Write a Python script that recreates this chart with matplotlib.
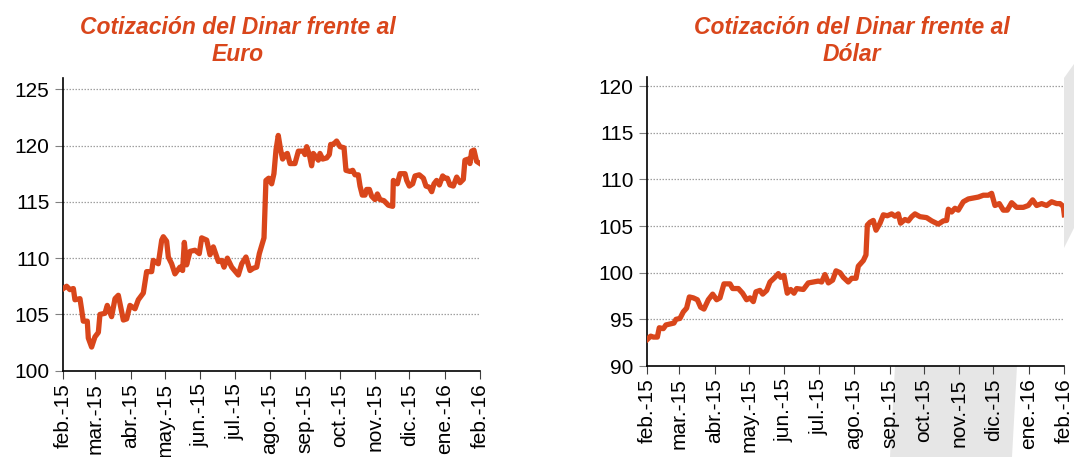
import matplotlib
matplotlib.use("Agg")
import matplotlib.pyplot as plt
from matplotlib.patches import Polygon

plt.rcParams['font.family'] = ['Liberation Sans', 'DejaVu Sans']

# dias desde el 1 de febrero de 2015
dias_euro = [0, 2.9, 5.8, 8.8, 10.2, 14.6, 16.1, 17.5, 21.0, 21.9, 24.8, 27.7, 30.7, 32.1,
             36.5, 38.5, 42.3, 45.3, 48.2, 52.6, 55.5, 58.4, 62.8, 65.7, 70.1, 73.0, 77.4,
             78.8, 83.2, 86.2, 87.6, 90.5, 92.0, 94.9, 97.8, 102.2, 104.5, 106.0, 108.0,
             111.0, 115.3, 119.1, 121.2, 125.6, 128.5, 131.4, 135.8, 138.7, 140.8, 143.7,
             147.5, 153.3, 156.3, 160.0, 163.5, 166.4, 169.4, 171.7, 175.8, 177.5, 179.9,
             182.5, 184.5, 186.3, 188.3, 190.4, 192.1, 194.8, 196.2, 198.6, 202.9, 205.9,
             210.2, 211.7, 213.2, 215.5, 217.5, 219.0, 223.4, 224.8, 227.2, 230.7, 233.0,
             234.2, 236.5, 239.4, 242.4, 245.9, 247.6, 251.1, 253.5, 255.5, 258.4, 259.9,
             261.9, 264.3, 265.7, 268.1, 270.1, 273.0, 275.1, 277.4, 280.9, 284.7, 288.5,
             289.1, 290.5, 292.6, 294.9, 299.3, 300.8, 303.1, 306.0, 308.1, 311.8, 315.4,
             317.7, 320.6, 322.7, 324.7, 327.0, 329.4, 332.3, 334.3, 336.4, 338.7, 341.6,
             344.6, 347.5, 350.4, 351.8, 354.7, 356.2, 357.7, 359.7, 362.0, 365.0]
euro = [107.3, 107.5, 107.2, 107.3, 106.3, 106.4, 105.4, 104.4, 104.4, 102.9, 102.1, 103.0,
        103.4, 105.0, 105.1, 105.8, 104.8, 106.4, 106.7, 104.5, 104.6, 105.8, 105.5, 106.3,
        106.9, 108.8, 108.8, 109.8, 109.5, 111.6, 111.9, 111.5, 110.1, 109.5, 108.6, 109.2,
        108.9, 111.4, 109.4, 110.6, 110.7, 110.4, 111.8, 111.6, 110.3, 111.0, 109.7, 109.8,
        109.2, 110.0, 109.2, 108.5, 109.5, 110.1, 108.9, 109.1, 109.2, 110.4, 111.8, 116.9,
        117.1, 116.6, 117.5, 119.6, 120.9, 119.6, 118.8, 119.2, 119.3, 118.4, 118.4, 119.5,
        119.5, 119.2, 119.9, 119.2, 118.2, 119.3, 118.7, 119.3, 118.8, 118.9, 119.2, 120.1,
        120.1, 120.4, 119.9, 119.8, 117.8, 117.7, 117.8, 117.4, 117.4, 116.4, 115.6, 115.6,
        116.1, 116.1, 115.5, 115.2, 115.7, 115.2, 115.1, 114.7, 114.6, 116.9, 116.8, 116.6,
        117.5, 117.5, 116.9, 116.4, 116.6, 117.3, 117.4, 117.1, 116.4, 116.3, 115.9, 116.6,
        116.9, 116.5, 117.3, 117.1, 117.1, 116.5, 116.4, 117.2, 116.7, 117.0, 118.7, 118.8,
        118.4, 119.5, 119.6, 118.6, 118.4]

dias_dolar = [0, 2.9, 5.3, 8.8, 10.5, 14.0, 16.3, 19.8, 23.3, 25.1, 28.6, 31.5, 34.4, 36.8,
              40.3, 43.8, 46.7, 49.6, 53.4, 57.2, 60.7, 63.6, 67.1, 72.4, 74.7, 79.7, 83.4,
              86.9, 89.9, 92.8, 95.1, 98.6, 101.0, 104.5, 107.4, 111.7, 114.7, 116.7, 119.6,
              122.5, 125.5, 128.4, 130.7, 136.6, 140.9, 145.3, 149.7, 152.6, 155.5, 158.5,
              162.2, 165.2, 168.7, 171.6, 175.9, 178.9, 182.7, 184.7, 189.1, 191.4, 192.6,
              194.9, 197.8, 200.2, 203.7, 206.6, 210.1, 213.9, 216.8, 219.7, 221.7, 225.5,
              228.5, 231.4, 234.3, 238.7, 244.5, 248.9, 254.7, 259.1, 262.0, 263.5, 266.4,
              269.3, 272.2, 276.6, 281.0, 285.3, 289.7, 294.1, 298.5, 301.4, 304.3, 308.1,
              311.6, 315.1, 318.9, 323.3, 329.1, 333.5, 337.3, 340.8, 345.2, 349.5, 353.9,
              358.3, 361.2, 364.1, 365.0]
dolar = [92.85, 93.2, 93.1, 93.1, 94.1, 94.0, 94.4, 94.5, 94.6, 95.0, 95.1, 95.8, 96.2, 97.4,
         97.3, 97.1, 96.3, 96.1, 97.1, 97.7, 97.1, 97.3, 98.8, 98.8, 98.3, 98.3, 97.8, 97.1,
         97.3, 96.9, 97.95, 98.1, 97.7, 98.1, 99.0, 99.5, 99.9, 99.5, 99.7, 97.8, 98.2, 97.8,
         98.3, 98.2, 98.9, 99.0, 99.1, 99.0, 99.8, 98.9, 99.2, 100.2, 100.0, 99.5, 99.0, 99.4,
         99.4, 100.7, 101.3, 101.9, 105.1, 105.4, 105.6, 104.55, 105.3, 106.2, 106.1, 106.3,
         106.05, 106.3, 105.3, 105.7, 105.55, 106.0, 106.3, 106.0, 105.9, 105.55, 105.2,
         105.55, 105.6, 106.8, 106.5, 106.9, 106.7, 107.6, 107.9, 108.0, 108.1, 108.3, 108.3,
         108.5, 107.2, 107.4, 106.7, 106.7, 107.5, 107.0, 107.0, 107.2, 107.8, 107.2, 107.4,
         107.2, 107.6, 107.4, 107.4, 107.1, 106.2]

meses_dias = [0, 28, 59, 89, 120, 150, 181, 212, 242, 273, 303, 334, 365]
meses = ['feb.-15', 'mar.-15', 'abr.-15', 'may.-15', 'jun.-15', 'jul.-15', 'ago.-15',
         'sep.-15', 'oct.-15', 'nov.-15', 'dic.-15', 'ene.-16', 'feb.-16']

naranja = '#D9461B'
W, H = 1074, 457

fig = plt.figure(figsize=(W / 100, H / 100), dpi=100)
fig.patch.set_facecolor('white')

# figura gris de fondo (solo asoma fuera del grafico derecho)
for pts in ([(890, 457), (895, 366), (1017, 366), (1012, 457)],
            [(1064, 78), (1074, 64), (1074, 228), (1064, 248)]):
    fig.add_artist(Polygon([(x / W, 1 - y / H) for x, y in pts], closed=True,
                           transform=fig.transFigure, facecolor='#E6E6E6',
                           edgecolor='none', zorder=0))


def grafico(rect, dias, valores, ylim, yticks, titulo, tx):
    ax = fig.add_axes(rect)
    ax.set_facecolor('white')
    ax.set_zorder(1)
    ax.plot(dias, valores, color=naranja, lw=3.8, solid_joinstyle='round', zorder=3)
    ax.set_xlim(0, 365)
    ax.set_ylim(*ylim)
    ax.set_yticks(yticks)
    ax.set_xticks(meses_dias)
    ax.set_xticklabels(meses, rotation=90, fontsize=15)
    ax.tick_params(axis='y', labelsize=15, length=6, color='#808080', pad=4)
    ax.tick_params(axis='x', length=6, color='#404040', pad=3)
    for s in ['top', 'right']:
        ax.spines[s].set_visible(False)
    for s in ['left', 'bottom']:
        ax.spines[s].set_color('black')
        ax.spines[s].set_linewidth(1.2)
    for v in yticks[1:]:
        ax.axhline(v, color='#A0A0A0', lw=0.9, ls=(0, (1.2, 1.2)), zorder=1)
    fig.text(tx / W, 1 - 16 / H, titulo, ha='center', va='top', fontsize=16.5,
             fontweight='bold', fontstyle='italic', color=naranja, linespacing=1.2)
    return ax


grafico([63.3 / W, 1 - 370.7 / H, 416.7 / W, 292.7 / H], dias_euro, euro, (100, 126),
        [100, 105, 110, 115, 120, 125], 'Cotización del Dinar frente al\nEuro', 238)
grafico([647.3 / W, 1 - 366 / H, 417 / W, 289.3 / H], dias_dolar, dolar, (90, 121),
        [90, 95, 100, 105, 110, 115, 120], 'Cotización del Dinar frente al\nDólar', 852)

fig.savefig('out.png', dpi=100, facecolor='white')
